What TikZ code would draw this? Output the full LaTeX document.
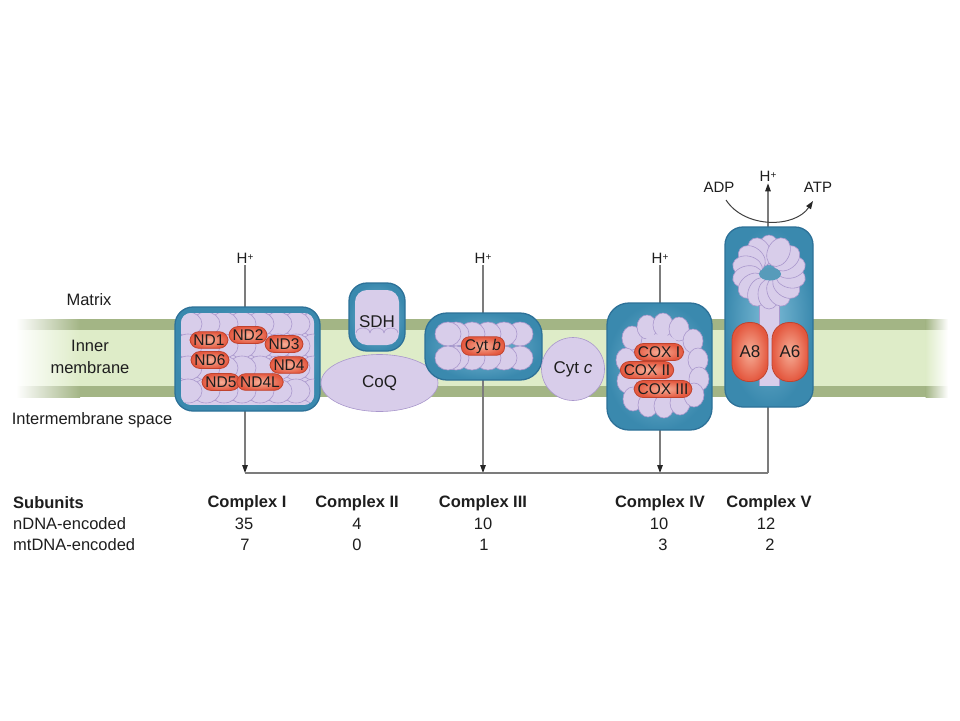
\documentclass[tikz,border=0pt]{standalone}
\usepackage{fontspec}
\setmainfont{Liberation Sans}
\usetikzlibrary{arrows.meta,shapes.geometric}
\definecolor{cblue}{HTML}{3A89AE}
\definecolor{cbluelt}{HTML}{7EBCD7}
\definecolor{cblued}{HTML}{2D7198}
\definecolor{lav}{HTML}{D8CDEA}
\definecolor{lavd}{HTML}{A997CC}
\definecolor{pred}{HTML}{E4583F}
\definecolor{predlt}{HTML}{F6AE97}
\definecolor{pdark}{HTML}{C0432E}
\definecolor{mdark}{HTML}{A3B585}
\definecolor{mlight}{HTML}{DEECC8}
\definecolor{linegray}{HTML}{7C7C7C}
\definecolor{txt}{HTML}{1E1E1E}
\tikzset{
  cbox/.style={rectangle, draw=cblued, line width=1.3pt, inner color=cbluelt, outer color=cblue, rounded corners=18pt, inner sep=0pt},
  blob/.style={fill=lav, draw=lavd, line width=0.6pt},
  pill/.style={rectangle, rounded corners=9pt, draw=pdark, line width=0.8pt, inner color=predlt, outer color=pred, inner xsep=3.5pt, inner ysep=3pt, font=\fontsize{15.5}{17}\selectfont, text=txt},
  vpill/.style={rectangle, rounded corners=17pt, draw=pdark, line width=0.8pt, inner color=predlt, outer color=pred, minimum width=36pt, minimum height=59pt, font=\fontsize{17}{19}\selectfont, text=txt},
  lbl/.style={font=\fontsize{16.5}{22}\selectfont, text=txt, inner sep=1pt},
  hlbl/.style={font=\fontsize{15}{17}\selectfont, text=txt, inner sep=2pt},
  tblh/.style={font=\bfseries\fontsize{16.5}{19}\selectfont, text=txt, inner sep=1pt},
  tbl/.style={font=\fontsize{16.5}{19}\selectfont, text=txt, inner sep=1pt},
  conn/.style={draw=linegray, line width=1.2pt},
  tip/.style={-{Triangle[length=8pt,width=5.5pt,color=black!85]}},
  inlbl/.style={font=\fontsize{17}{19}\selectfont, text=txt}
}
\begin{document}
\begin{tikzpicture}[x=1pt,y=-1pt]
\useasboundingbox (0,0) rectangle (960,720);
\fill[white] (0,0) rectangle (960,720);

% membrane
\foreach \ya/\yb/\c in {319/330/mdark,330/386/mlight,386/397/mdark}{
  \shade[left color=white,right color=\c] (16,\ya) rectangle (80,\yb);
  \fill[\c] (79.5,\ya) rectangle (926,\yb);
  \shade[left color=\c,right color=white] (925.5,\ya) rectangle (948,\yb);
}

% labels on the left
\node[lbl] (matrix) at (89,300) {Matrix};
\node[lbl, align=center] (inner) at (90,357) {Inner\\membrane};
\node[lbl] (ims) at (92,420) {Intermembrane space};

% H+ labels and proton connectors
\node[hlbl] (hI) at (245,258) {H\raisebox{3pt}{\fontsize{10}{10}\selectfont +}};
\node[hlbl] (hIII) at (483,258) {H\raisebox{3pt}{\fontsize{10}{10}\selectfont +}};
\node[hlbl] (hIV) at (660,258) {H\raisebox{3pt}{\fontsize{10}{10}\selectfont +}};
\node[hlbl] (hV) at (768,176) {H\raisebox{3pt}{\fontsize{10}{10}\selectfont +}};
\coordinate (b1) at (245,473);
\coordinate (b3) at (483,473);
\coordinate (b4) at (660,473);
\coordinate (b5) at (768,473);
\draw[conn, tip] (hI.south) -- (b1);
\draw[conn, tip] (hIII.south) -- (b3);
\draw[conn, tip] (hIV.south) -- (b4);
\draw[conn] (b1) -- (b5);
\draw[conn, tip] (b5) -- (hV.south);

% ADP / ATP
\node[hlbl] (adp) at (719,187) {ADP};
\node[hlbl] (atp) at (818,187) {ATP};
\coordinate (a1) at (726,200);
\coordinate (a2) at (813,201);
\draw[line width=1pt, black!75, tip] (a1) .. controls (745,229) and (795,228) .. (a2);

% Complex I
\node[cbox, minimum width=145pt, minimum height=104pt] (c1) at (247.5,359) {};
\begin{scope}
  \clip[rounded corners=10pt] (181,313) rectangle (314,405);
  \fill[lav] (181,313) rectangle (314,405);
  \foreach \yy in {324,346,368,391}{
    \foreach \xx in {314,296,...,188}{
      \draw[blob] (\xx,\yy) ellipse (14 and 12);
    }
  }
\end{scope}
\node[pill] (nd2) at (248,335) {ND2};
\node[pill] (nd1) at (209,340) {ND1};
\node[pill] (nd3) at (284,344) {ND3};
\node[pill] (nd6) at (210,360) {ND6};
\node[pill] (nd4) at (289,365) {ND4};
\node[pill] (nd5) at (221,382) {ND5};
\node[pill] (nd4l) at (260,382) {ND4L};

% Complex II (SDH + CoQ)
\node[cbox, minimum width=56pt, minimum height=68pt] (sdh) at (377,317) {};
\fill[lav, rounded corners=12pt] (355,290) rectangle (399,345);
\draw[lavd, line width=0.6pt] (356,333) arc[start angle=180, end angle=360, x radius=7, y radius=5];
\draw[lavd, line width=0.6pt] (370,333) arc[start angle=180, end angle=360, x radius=7, y radius=5];
\draw[lavd, line width=0.6pt] (384,333) arc[start angle=180, end angle=360, x radius=7, y radius=5];
\node[inlbl] (sdhl) at (377,322) {SDH};
\node[ellipse, blob, minimum width=117pt, minimum height=57pt, inlbl] (coq) at (379.5,383) {CoQ};

% Complex III
\node[cbox, minimum width=117pt, minimum height=67pt, rounded corners=22pt] (c3) at (483.5,346.5) {};
\foreach \yy in {334,358}{
  \foreach \xx in {520,504,488,472,456,448}{
    \draw[blob] (\xx,\yy) ellipse (13 and 12);
  }
}
\node[pill, rounded corners=8pt, inner ysep=2pt] (cytb) at (483,346) {Cyt \textit{b}};

% Cyt c
\node[circle, blob, minimum size=63pt, inlbl] (cytc) at (573,369) {Cyt \textit{c}};

% Complex IV
\node[cbox, minimum width=105pt, minimum height=127pt, rounded corners=22pt] (c4) at (659.5,366.5) {};
\fill[lav] (660,366) ellipse (36 and 42);
\foreach \px/\py in {632/338,647/327,663/325,679/329,693/341,626/360,698/360,627/381,699/379,633/399,648/405,664/406,680/403,694/395}{
  \draw[blob] (\px,\py) ellipse (10 and 12);
}
\fill[lav] (660,366) ellipse (27 and 32);
\node[pill] (cox1) at (659,352) {COX I};
\node[pill] (cox2) at (647,370) {COX II};
\node[pill] (cox3) at (663,389) {COX III};

% Complex V
\node[cbox, minimum width=88pt, minimum height=180pt] (c5) at (769,317) {};
\fill[lav] (759,295) rectangle (779,386);
\draw[lavd, line width=0.5pt] (759,295) -- (759,386) (779,295) -- (779,386);
\foreach \i in {0,...,13}{
  \pgfmathsetmacro\ang{\i*360/14+90}
  \begin{scope}[shift={(769,272)}, rotate=\ang]
    \draw[blob] (22,0) ellipse (15 and 11);
  \end{scope}
}
\fill[cblue!85] (770,274) ellipse (11 and 6.5);
\node[vpill] (a8) at (750,352) {A8};
\node[vpill] (a6) at (790,352) {A6};

% table
\node[tblh, anchor=west] (subunits) at (12,503) {Subunits};
\node[tbl, anchor=west] (ndna) at (12,524) {nDNA-encoded};
\node[tbl, anchor=west] (mtdna) at (12,545) {mtDNA-encoded};
\node[tblh] (t1) at (247,503) {Complex I};
\node[tblh] (t2) at (357,503) {Complex II};
\node[tblh] (t3) at (483,503) {Complex III};
\node[tblh] (t4) at (660,503) {Complex IV};
\node[tblh] (t5) at (769,503) {Complex V};
\node[tbl] (n1) at (244,524) {35};
\node[tbl] (n2) at (357,524) {4};
\node[tbl] (n3) at (483,524) {10};
\node[tbl] (n4) at (659,524) {10};
\node[tbl] (n5) at (766,524) {12};
\node[tbl] (m1) at (245,545) {7};
\node[tbl] (m2) at (357,545) {0};
\node[tbl] (m3) at (484,545) {1};
\node[tbl] (m4) at (663,545) {3};
\node[tbl] (m5) at (770,545) {2};
\end{tikzpicture}
\end{document}
